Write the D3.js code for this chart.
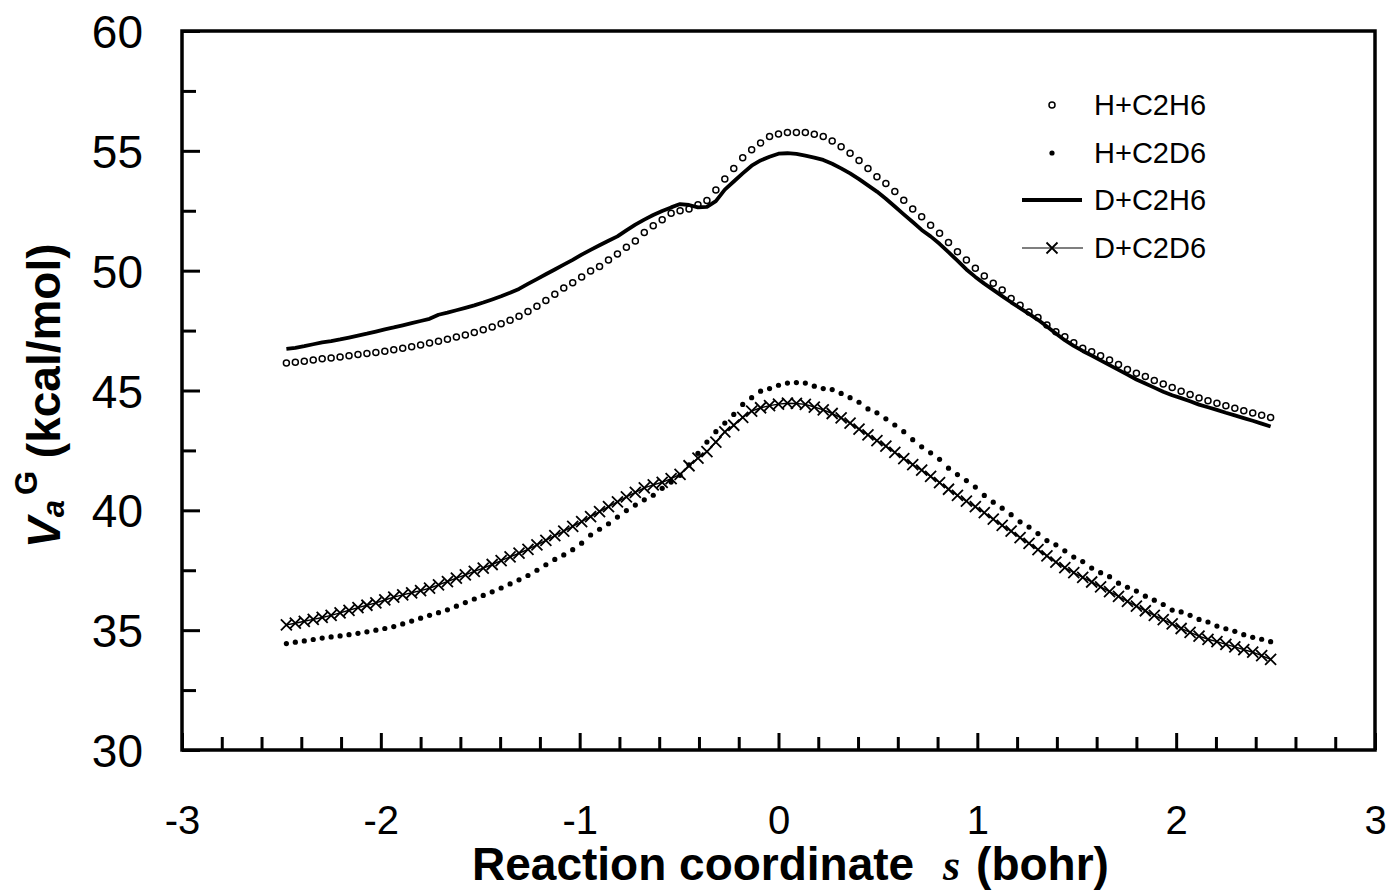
<!DOCTYPE html>
<html>
<head>
<meta charset="utf-8">
<script src="https://cdn.jsdelivr.net/npm/d3@7"></script>
<style>
  body { margin: 0; background: #fff; }
  svg { display: block; font-family: "Liberation Sans", Arial, sans-serif; }
</style>
</head>
<body>
<svg id="chart" width="1393" height="893"></svg>
<script>
// reaction coordinate grid (bohr)
const sValues = [-2.475,-2.43,-2.385,-2.34,-2.295,-2.25,-2.205,-2.16,-2.115,-2.07,-2.025,-1.98,-1.935,-1.89,-1.845,-1.8,-1.755,-1.71,-1.665,-1.62,-1.575,-1.53,-1.485,-1.44,-1.395,-1.35,-1.305,-1.26,-1.215,-1.17,-1.125,-1.08,-1.035,-0.99,-0.945,-0.9,-0.855,-0.81,-0.765,-0.72,-0.675,-0.63,-0.585,-0.54,-0.495,-0.45,-0.405,-0.36,-0.315,-0.27,-0.225,-0.18,-0.135,-0.09,-0.045,0,0.045,0.09,0.135,0.18,0.225,0.27,0.315,0.36,0.405,0.45,0.495,0.54,0.585,0.63,0.675,0.72,0.765,0.81,0.855,0.9,0.945,0.99,1.035,1.08,1.125,1.17,1.215,1.26,1.305,1.35,1.395,1.44,1.485,1.53,1.575,1.62,1.665,1.71,1.755,1.8,1.845,1.89,1.935,1.98,2.025,2.07,2.115,2.16,2.205,2.25,2.295,2.34,2.385,2.43,2.475];

// VaG (kcal/mol)
const hC2H6 = [46.15,46.18,46.22,46.27,46.32,46.36,46.40,46.45,46.50,46.54,
  46.59,46.64,46.70,46.76,46.83,46.90,46.98,47.06,47.14,47.23,
  47.32,47.42,47.53,47.65,47.78,47.93,48.10,48.30,48.52,48.76,
  49.02,49.28,49.50,49.74,49.99,50.17,50.45,50.70,50.98,51.24,
  51.59,51.87,52.12,52.40,52.50,52.57,52.75,52.93,53.37,53.82,
  54.26,54.71,55.05,55.33,55.60,55.70,55.77,55.77,55.77,55.69,
  55.60,55.41,55.17,54.90,54.60,54.26,53.92,53.64,53.30,52.94,
  52.57,52.25,51.90,51.56,51.18,50.79,50.44,50.10,49.78,49.47,
  49.19,48.84,48.56,48.28,48.05,47.73,47.45,47.24,46.99,46.76,
  46.62,46.45,46.27,46.08,45.88,45.72,45.58,45.42,45.27,45.12,
  44.97,44.83,44.69,44.57,44.47,44.36,44.26,44.15,44.06,43.97,43.87];

const hC2D6 = [34.44,34.50,34.55,34.61,34.67,34.72,34.76,34.81,34.87,34.93,
  35.00,35.07,35.15,35.26,35.38,35.50,35.62,35.73,35.85,36.00,
  36.15,36.30,36.45,36.60,36.76,36.93,37.10,37.28,37.50,37.73,
  37.95,38.14,38.36,38.63,38.97,39.21,39.44,39.72,39.99,40.22,
  40.44,40.63,40.92,41.18,41.46,41.90,42.38,42.85,43.28,43.64,
  44.00,44.42,44.70,44.97,45.08,45.22,45.31,45.33,45.31,45.18,
  45.08,45.04,44.88,44.70,44.51,44.23,44.07,43.82,43.56,43.28,
  42.95,42.65,42.40,42.13,41.76,41.49,41.24,40.97,40.62,40.34,
  40.09,39.82,39.52,39.30,39.03,38.74,38.56,38.31,38.05,37.86,
  37.59,37.40,37.23,36.96,36.79,36.63,36.42,36.25,36.07,35.84,
  35.76,35.62,35.45,35.34,35.17,35.06,34.95,34.81,34.70,34.62,34.52];

const dC2H6 = [46.74,46.78,46.85,46.93,47.01,47.06,47.13,47.21,47.29,47.37,
  47.46,47.55,47.63,47.72,47.81,47.90,47.99,48.16,48.25,48.35,
  48.45,48.55,48.67,48.80,48.93,49.08,49.24,49.45,49.65,49.85,
  50.05,50.25,50.45,50.67,50.87,51.06,51.25,51.43,51.68,51.92,
  52.13,52.32,52.49,52.64,52.78,52.74,52.64,52.66,52.90,53.38,
  53.72,54.06,54.38,54.60,54.75,54.88,54.90,54.87,54.80,54.72,
  54.62,54.46,54.27,54.06,53.82,53.56,53.30,53.00,52.68,52.35,
  52.03,51.70,51.43,51.12,50.77,50.42,50.05,49.74,49.46,49.20,
  48.94,48.68,48.44,48.20,47.95,47.67,47.38,47.10,46.86,46.65,
  46.46,46.26,46.06,45.86,45.66,45.46,45.29,45.12,44.95,44.80,
  44.68,44.55,44.41,44.30,44.19,44.07,43.96,43.85,43.74,43.62,43.50];

const dC2D6 = [35.22,35.29,35.37,35.45,35.53,35.62,35.72,35.83,35.94,36.04,
  36.14,36.26,36.38,36.47,36.56,36.65,36.75,36.89,37.03,37.17,
  37.31,37.45,37.59,37.74,37.90,38.06,38.21,38.37,38.56,38.75,
  38.94,39.13,39.33,39.53,39.74,39.95,40.15,40.35,40.56,40.75,
  40.94,41.06,41.17,41.32,41.50,41.86,42.18,42.45,42.85,43.27,
  43.55,43.88,44.14,44.28,44.37,44.43,44.47,44.46,44.42,44.31,
  44.19,44.04,43.86,43.64,43.39,43.15,42.91,42.68,42.42,42.16,
  41.91,41.68,41.42,41.16,40.88,40.62,40.38,40.15,39.90,39.63,
  39.37,39.13,38.86,38.62,38.36,38.10,37.84,37.61,37.40,37.20,
  37.01,36.81,36.61,36.41,36.20,36.00,35.81,35.62,35.44,35.26,
  35.07,34.91,34.75,34.62,34.52,34.41,34.30,34.19,34.08,33.94,33.78];

const seriesNames = ['H+C2H6', 'H+C2D6', 'D+C2H6', 'D+C2D6'];
const xTicks = [-3, -2, -1, 0, 1, 2, 3];
const yTicks = [30, 35, 40, 45, 50, 55, 60];

const svg = d3.select('#chart');
const plotLeft = 182, plotRight = 1375, plotTop = 31, plotBottom = 750;

const x = d3.scaleLinear().domain([-3, 3]).range([plotLeft, plotRight]);
const y = d3.scaleLinear().domain([30, 60]).range([plotBottom, plotTop]);

const toPoints = vals => sValues.slice(0, vals.length).map((s, i) => ({ s: s, v: vals[i] }));

// minor ticks
const xMinor = d3.range(-3, 3.001, 0.2).map(d => +d.toFixed(1)).filter(d => !xTicks.includes(d));
const yMinor = [32.5, 37.5, 42.5, 47.5, 52.5, 57.5];

svg.append('g')
  .attr('transform', `translate(0,${plotBottom})`)
  .call(d3.axisBottom(x).tickValues(xMinor).tickSize(-13).tickFormat(''))
  .call(g => g.select('.domain').remove())
  .selectAll('line').attr('stroke', '#000').attr('stroke-width', 3);

svg.append('g')
  .attr('transform', `translate(${plotLeft},0)`)
  .call(d3.axisLeft(y).tickValues(yMinor).tickSize(-14).tickFormat(''))
  .call(g => g.select('.domain').remove())
  .selectAll('line').attr('stroke', '#000').attr('stroke-width', 3);

const xAxis = svg.append('g')
  .attr('transform', `translate(0,${plotBottom})`)
  .call(d3.axisBottom(x).tickValues(xTicks).tickSize(-17).tickPadding(56).tickFormat(d => String(d)));
xAxis.select('.domain').remove();
xAxis.selectAll('line').attr('stroke', '#000').attr('stroke-width', 3);
xAxis.selectAll('text').attr('font-size', 40).attr('fill', '#000')
  .attr('font-family', '"Liberation Sans", Arial, sans-serif');

const yAxis = svg.append('g')
  .attr('transform', `translate(${plotLeft},0)`)
  .call(d3.axisLeft(y).tickValues(yTicks).tickSize(-18).tickPadding(39).tickFormat(d => String(d)));
yAxis.select('.domain').remove();
yAxis.selectAll('line').attr('stroke', '#000').attr('stroke-width', 3);
yAxis.selectAll('text').attr('font-size', 46).attr('fill', '#000').attr('dy', '0.36em')
  .attr('font-family', '"Liberation Sans", Arial, sans-serif');

// frame
svg.append('rect')
  .attr('x', plotLeft).attr('y', plotTop)
  .attr('width', plotRight - plotLeft).attr('height', plotBottom - plotTop)
  .attr('fill', 'none').attr('stroke', '#000').attr('stroke-width', 3.5);

const line = d3.line().x(d => x(d.s)).y(d => y(d.v));
const plot = svg.append('g');

// H+C2H6 open circles
plot.append('g').selectAll('circle')
  .data(toPoints(hC2H6))
  .enter().append('circle')
  .attr('cx', d => x(d.s)).attr('cy', d => y(d.v))
  .attr('r', 3.0).attr('fill', 'none').attr('stroke', '#000').attr('stroke-width', 1.5);

// H+C2D6 filled dots
plot.append('g').selectAll('circle')
  .data(toPoints(hC2D6))
  .enter().append('circle')
  .attr('cx', d => x(d.s)).attr('cy', d => y(d.v))
  .attr('r', 2.6).attr('fill', '#000');

// D+C2H6 thick line
plot.append('path')
  .datum(toPoints(dC2H6))
  .attr('d', line)
  .attr('fill', 'none').attr('stroke', '#000').attr('stroke-width', 3.8)
  .attr('stroke-linejoin', 'round');

// D+C2D6 thin line with crosses
plot.append('path')
  .datum(toPoints(dC2D6))
  .attr('d', line)
  .attr('fill', 'none').attr('stroke', '#000').attr('stroke-width', 1.4);

const crossPath = 'M-5.5,-5.5L5.5,5.5M-5.5,5.5L5.5,-5.5';
plot.append('g').selectAll('path')
  .data(toPoints(dC2D6))
  .enter().append('path')
  .attr('transform', d => `translate(${x(d.s)},${y(d.v)})`)
  .attr('d', crossPath)
  .attr('stroke', '#000').attr('stroke-width', 1.8);

// legend
const legend = svg.append('g');
const legendRows = [105, 153, 200, 248];
const legendX = 1052;
legendRows.forEach((ly, i) => {
  legend.append('text')
    .attr('x', 1094).attr('y', ly)
    .attr('dy', '0.35em')
    .attr('font-size', 29)
    .text(seriesNames[i]);
});
legend.append('circle').attr('cx', legendX).attr('cy', legendRows[0])
  .attr('r', 3.0).attr('fill', 'none').attr('stroke', '#000').attr('stroke-width', 1.5);
legend.append('circle').attr('cx', legendX).attr('cy', legendRows[1])
  .attr('r', 2.6).attr('fill', '#000');
legend.append('line').attr('x1', 1022).attr('x2', 1082)
  .attr('y1', legendRows[2]).attr('y2', legendRows[2])
  .attr('stroke', '#000').attr('stroke-width', 3.8);
legend.append('line').attr('x1', 1022).attr('x2', 1083)
  .attr('y1', legendRows[3]).attr('y2', legendRows[3])
  .attr('stroke', '#000').attr('stroke-width', 1.2);
legend.append('path')
  .attr('transform', `translate(${legendX},${legendRows[3]})`)
  .attr('d', crossPath).attr('stroke', '#000').attr('stroke-width', 1.8);

// x axis title
const xTitle = svg.append('text')
  .attr('x', 472).attr('y', 880)
  .attr('font-size', 46).attr('font-weight', 'bold');
xTitle.append('tspan').text('Reaction coordinate ');
xTitle.append('tspan')
  .attr('font-family', '"Liberation Serif", "Times New Roman", serif')
  .attr('font-style', 'italic').attr('font-size', 44)
  .attr('dx', 16).text('s');
xTitle.append('tspan').attr('dx', 16).text('(bohr)');

// y axis title
const yTitle = svg.append('text')
  .attr('transform', 'translate(60,548) rotate(-90)')
  .attr('font-size', 46).attr('font-weight', 'bold');
yTitle.append('tspan').attr('font-style', 'italic').text('V');
yTitle.append('tspan').attr('font-style', 'italic').attr('font-size', 31)
  .attr('dy', 4).text('a');
yTitle.append('tspan').attr('font-size', 31).attr('dx', 5)
  .attr('dy', -27).text('G');
yTitle.append('tspan').attr('dy', 23).text(' (kcal/mol)');
</script>
</body>
</html>
